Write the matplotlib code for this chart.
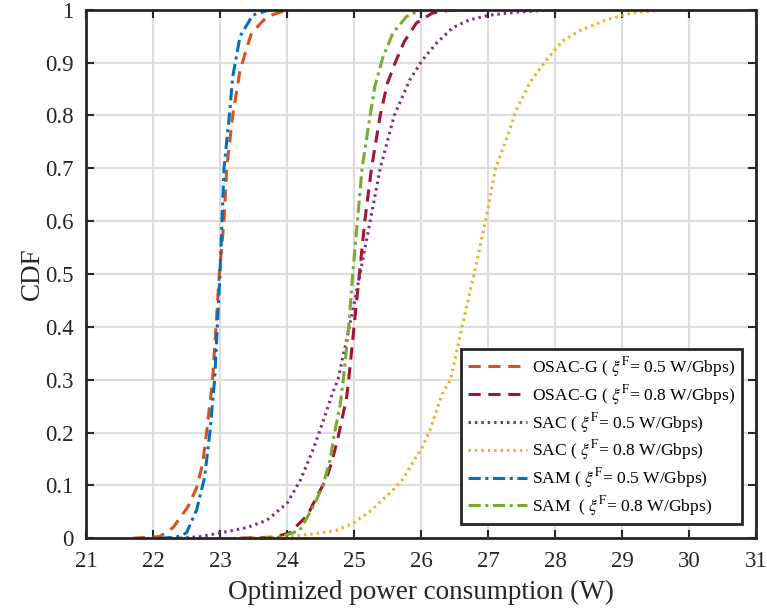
import matplotlib
matplotlib.use("Agg")
import matplotlib.pyplot as plt

plt.rcParams['font.family'] = ['Liberation Serif', 'DejaVu Serif']
plt.rcParams['mathtext.fontset'] = 'stix'

# curve data (x = power in W, y = CDF)
osac05_x = [21.7, 22.1, 22.3, 22.52, 22.65, 22.74, 22.80, 22.89, 22.94, 22.99, 23.06, 23.10,
            23.19, 23.30, 23.47, 23.70, 24.0, 24.3]
osac05_y = [0, 0.003, 0.02, 0.059, 0.095, 0.14, 0.2, 0.3, 0.4, 0.5, 0.6, 0.7,
            0.8, 0.886, 0.956, 0.987, 1.0, 1.0]

osac08_x = [23.3, 23.8, 24.04, 24.31, 24.44, 24.59, 24.68, 24.76, 24.89, 24.92, 25.0, 25.08,
            25.16, 25.26, 25.39, 25.5, 25.63, 25.75, 25.93, 26.17, 26.47, 26.77]
osac08_y = [0, 0.002, 0.01, 0.044, 0.078, 0.113, 0.15, 0.19, 0.267, 0.3, 0.4, 0.5,
            0.6, 0.7, 0.8, 0.862, 0.905, 0.94, 0.975, 0.994, 1.0, 1.0]

sac05_x = [22.4, 22.7, 23.0, 23.4, 23.7, 24.0, 24.2, 24.38, 24.53, 24.68, 24.76, 24.93,
           25.09, 25.24, 25.39, 25.6, 25.83, 26.02, 26.23, 26.47, 26.72, 27.02, 27.47, 27.96]
sac05_y = [0, 0.003, 0.01, 0.02, 0.034, 0.066, 0.11, 0.165, 0.218, 0.275, 0.3, 0.4,
           0.5, 0.6, 0.7, 0.8, 0.867, 0.905, 0.937, 0.966, 0.981, 0.99, 0.996, 1.0]

sac08_x = [23.2, 23.9, 24.38, 24.74, 24.98, 25.23, 25.53, 25.72, 25.87, 26.02, 26.13, 26.23,
           26.32, 26.44, 26.61, 26.79, 26.96, 27.11, 27.27, 27.42, 27.62, 27.87, 28.1, 28.36,
           28.76, 29.15, 29.66, 30.35]
sac08_y = [0, 0.002, 0.008, 0.015, 0.028, 0.05, 0.085, 0.11, 0.142, 0.173, 0.204, 0.242,
           0.274, 0.3, 0.4, 0.5, 0.6, 0.7, 0.754, 0.81, 0.862, 0.905, 0.94, 0.96,
           0.981, 0.994, 1.0, 1.0]

sam05_x = [22.1, 22.35, 22.5, 22.65, 22.77, 22.85, 22.92, 22.96, 23.0, 23.03, 23.06, 23.14,
           23.19, 23.30, 23.49, 23.74]
sam05_y = [0, 0.002, 0.01, 0.053, 0.115, 0.2, 0.3, 0.4, 0.5, 0.6, 0.7, 0.8,
           0.873, 0.95, 0.99, 1.0]

sam08_x = [23.6, 23.9, 24.19, 24.38, 24.53, 24.64, 24.71, 24.79, 24.84, 24.92, 24.98, 25.05,
           25.12, 25.24, 25.31, 25.43, 25.58, 25.78, 26.0]
sam08_y = [0, 0.002, 0.015, 0.057, 0.097, 0.147, 0.2, 0.25, 0.3, 0.4, 0.5, 0.6,
           0.7, 0.8, 0.855, 0.91, 0.956, 0.987, 1.0]

labels = [r'OSAC-G ( $\xi^{\mathrm{F}}$= 0.5 W/Gbps)',
          r'OSAC-G ( $\xi^{\mathrm{F}}$= 0.8 W/Gbps)',
          r'SAC ( $\xi^{\mathrm{F}}$= 0.5 W/Gbps)',
          r'SAC ( $\xi^{\mathrm{F}}$= 0.8 W/Gbps)',
          r'SAM ( $\xi^{\mathrm{F}}$= 0.5 W/Gbps)',
          r'SAM  ( $\xi^{\mathrm{F}}$= 0.8 W/Gbps)']

fig = plt.figure(figsize=(7.67, 6.13), dpi=100)
ax = fig.add_axes([0.112, 0.122, 0.874, 0.862])

lw = 2.2
dash = (4, 2.5)
dot = (0.8, 1.3)
dashdot = (4, 1.5, 1, 1.5)
ax.plot(osac05_x, osac05_y, color='#D95319', lw=lw, dashes=dash, label=labels[0])
ax.plot(osac08_x, osac08_y, color='#A2142F', lw=lw, dashes=dash, label=labels[1])
ax.plot(sac05_x, sac05_y, color='#7E2F8E', lw=lw, dashes=dot, label=labels[2])
ax.plot(sac08_x, sac08_y, color='#EDB120', lw=lw, dashes=dot, label=labels[3])
ax.plot(sam05_x, sam05_y, color='#0072BD', lw=lw, dashes=dashdot, label=labels[4])
ax.plot(sam08_x, sam08_y, color='#77AC30', lw=lw, dashes=dashdot, label=labels[5])

ax.set_xlim(21, 31)
ax.set_ylim(0, 1)
ax.set_xticks(range(21, 32))
ax.set_yticks([i / 10 for i in range(11)])
ax.set_yticklabels(['0', '0.1', '0.2', '0.3', '0.4', '0.5', '0.6', '0.7', '0.8', '0.9', '1'])
ax.grid(True, color='#dddddd', lw=1.5)
ax.set_axisbelow(True)
ax.tick_params(direction='in', top=True, right=True, length=6, width=1.5,
               labelsize=16.5, color='#262626', labelcolor='#262626')
ax.tick_params(axis='x', pad=9)
ax.tick_params(axis='y', pad=9)
for s in ax.spines.values():
    s.set_linewidth(2)
    s.set_color('#262626')

ax.set_xlabel('Optimized power consumption (W)', fontsize=19.5, labelpad=6, color='#262626')
ax.set_ylabel('CDF', fontsize=19.5, labelpad=0, color='#262626')

leg = ax.legend(loc='lower right', bbox_to_anchor=(0.978, 0.0265), fontsize=12.6,
                fancybox=False, framealpha=1, edgecolor='#262626', handlelength=3.4,
                borderpad=0.35, labelspacing=0.22, handletextpad=0.3, borderaxespad=0)
leg.get_frame().set_linewidth(2)

fig.savefig('out.png', dpi=100)
